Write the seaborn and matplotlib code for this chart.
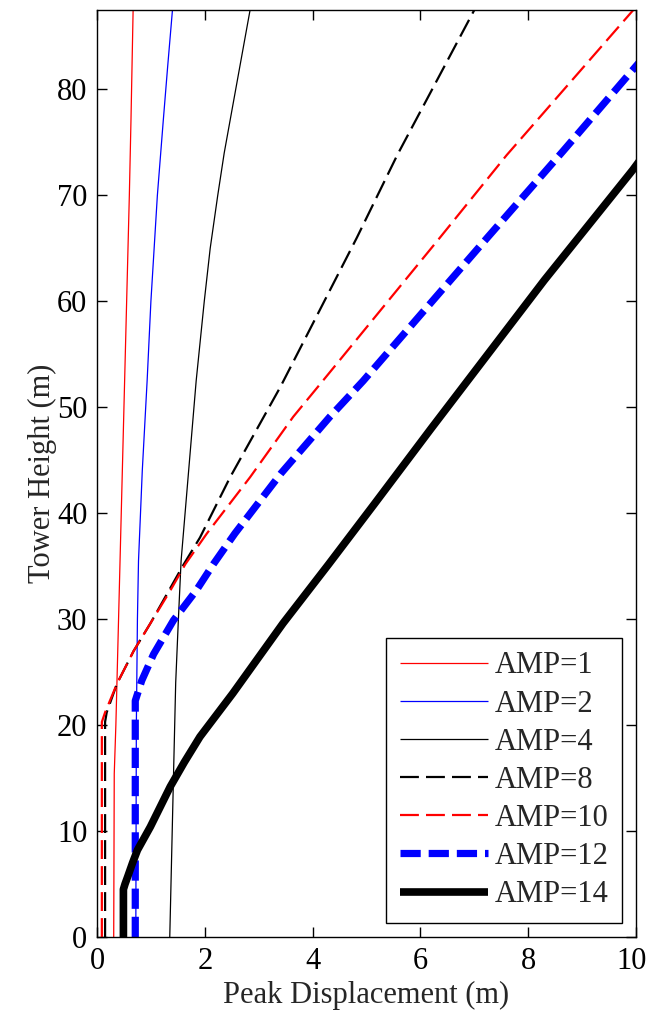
import matplotlib
matplotlib.use("Agg")
import matplotlib.pyplot as plt
import matplotlib.transforms as mtransforms
import seaborn as sns
import pandas as pd

# ---- data ----
labels = ["AMP=1", "AMP=2", "AMP=4", "AMP=8", "AMP=10", "AMP=12", "AMP=14"]

h_amp1 = [0, 15.4, 20, 30, 40, 50, 60, 70, 77, 87.5]
d_amp1 = [0.31, 0.32, 0.35, 0.40, 0.45, 0.50, 0.55, 0.60, 0.63, 0.67]

h_amp2 = [0, 20, 30, 35.5, 44, 52.5, 60, 70, 77.1, 82.1, 87.5]
d_amp2 = [0.72, 0.73, 0.75, 0.77, 0.84, 0.93, 1.00, 1.12, 1.23, 1.31, 1.40]

h_amp4 = [0, 6.6, 15.4, 24, 30, 35.5, 44, 52.5, 60, 65, 70, 74, 77.1, 87.5]
d_amp4 = [1.35, 1.38, 1.42, 1.46, 1.51, 1.56, 1.70, 1.84, 1.99, 2.10, 2.24, 2.36, 2.47, 2.84]

h_amp8 = [0, 20.3, 21.2, 23.9, 27, 29.6, 35.1, 37.7, 43.4, 51.9, 66, 73.8, 87.5]
d_amp8 = [0.15, 0.15, 0.18, 0.37, 0.68, 0.99, 1.60, 1.91, 2.47, 3.40, 4.82, 5.57, 7.0]

h_amp10 = [0, 20.3, 21.2, 23.9, 27, 29.6, 32.7, 35.2, 38.1, 43.4, 49.1, 52.5, 66, 73.8, 87.5]
d_amp10 = [0.09, 0.09, 0.15, 0.37, 0.68, 0.99, 1.36, 1.64, 2.04, 2.84, 3.64, 4.19, 6.36, 7.6, 9.95]

h_amp12 = [0, 22.3, 24.2, 26.7, 29.9, 32.7, 35.2, 38.1, 43.8, 49.1, 52.5, 66, 74.2, 82.5]
d_amp12 = [0.71, 0.71, 0.83, 1.05, 1.42, 1.84, 2.16, 2.56, 3.42, 4.32, 4.94, 7.24, 8.65, 10.05]

h_amp14 = [0, 4.5, 5.0, 5.7, 7.0, 8.2, 10.4, 14.2, 16.5, 18.9, 23, 29.6, 35.2, 40.9, 48, 55, 62, 72.4, 73.5]
d_amp14 = [0.49, 0.49, 0.52, 0.57, 0.66, 0.75, 0.99, 1.36, 1.62, 1.91, 2.52, 3.45, 4.30, 5.15, 6.20, 7.25, 8.30, 9.94, 10.1]

heights = [h_amp1, h_amp2, h_amp4, h_amp8, h_amp10, h_amp12, h_amp14]
disps = [d_amp1, d_amp2, d_amp4, d_amp8, d_amp10, d_amp12, d_amp14]

xticks = [0, 2, 4, 6, 8, 10]
yticks = [0, 10, 20, 30, 40, 50, 60, 70, 80]

# ---- styles ----
styles = [
    dict(color="#ff0000", lw=0.9, dashes=None),
    dict(color="#0000ff", lw=0.9, dashes=None),
    dict(color="#000000", lw=0.9, dashes=None),
    dict(color="#000000", lw=1.6, dashes=(8.5, 3.2)),
    dict(color="#ff0000", lw=1.6, dashes=(8.5, 3.2)),
    dict(color="#0000ff", lw=5.2, dashes=(2.8, 1.1)),
    dict(color="#000000", lw=5.5, dashes=None),
]

FS = 22

sns.set_style("ticks")
plt.rcParams["font.family"] = ["Liberation Serif", "DejaVu Serif"]
plt.rcParams["font.size"] = FS

fig = plt.figure(figsize=(6.48, 10.17), dpi=100)
ax = fig.add_axes([97 / 648, 80 / 1017, 539 / 648, 927 / 1017])

for lab, h, d, st in zip(labels, heights, disps, styles):
    df = pd.DataFrame({"disp": d, "height": h})
    sns.lineplot(data=df, x="disp", y="height", ax=ax, estimator=None,
                 sort=False, orient="y", color=st["color"], lw=st["lw"],
                 label=lab)
    line = ax.get_lines()[-1]
    if st["dashes"] is not None:
        line.set_dashes(st["dashes"])
    line.set_solid_capstyle("butt")
    line.set_dash_capstyle("butt")
    line.set_solid_joinstyle("round")

ax.set_xlim(0, 10)
ax.set_ylim(0, 87.5)
ax.set_xticks(xticks)
ax.set_yticks(yticks)
ax.tick_params(direction="in", length=7, width=1.0, top=True, right=True,
               labelsize=FS, colors="black", pad=7)
for sp in ax.spines.values():
    sp.set_visible(True)
    sp.set_linewidth(1.0)
    sp.set_color("black")
ax.set_xlabel("Peak Displacement (m)", fontsize=FS, labelpad=4)
ax.set_ylabel("Tower Height (m)", fontsize=FS, labelpad=0)

leg = ax.legend(loc="lower right", bbox_to_anchor=(0.974, 0.015),
                borderaxespad=0, fontsize=FS, handlelength=2.9,
                handletextpad=0.2, labelspacing=0.3, borderpad=0.45,
                frameon=True, fancybox=False, framealpha=1.0)
leg.get_frame().set_edgecolor("black")
leg.get_frame().set_linewidth(1.0)

# keep the last x tick label ("10") inside the canvas
fig.canvas.draw()
last = ax.xaxis.get_major_ticks()[-1].label1
last.set_transform(last.get_transform() +
                   mtransforms.ScaledTranslation(-4 / 100, 0, fig.dpi_scale_trans))

fig.savefig("out.png", dpi=100)
